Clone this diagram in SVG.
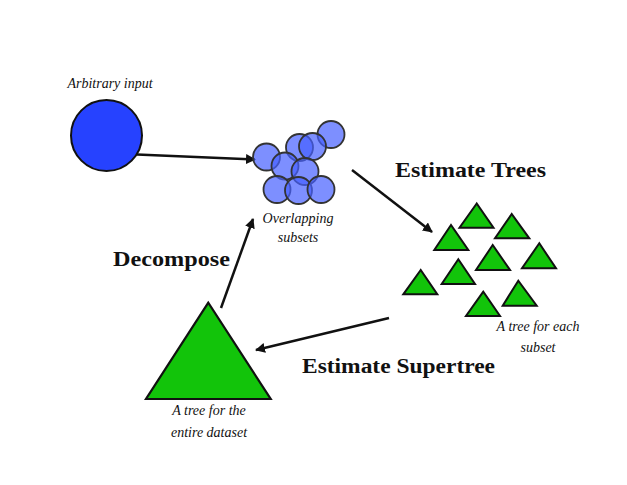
<svg xmlns="http://www.w3.org/2000/svg" width="627" height="485" viewBox="0 0 627 485">
<style>
.lbl{font-family:"Liberation Serif","Times New Roman",serif;font-style:italic;font-size:14px;fill:#111;text-anchor:middle}
.head{font-family:"Liberation Serif","Times New Roman",serif;font-weight:bold;font-size:20px;fill:#111}
.sub{fill:#4660ff;fill-opacity:0.7;stroke:#333;stroke-width:1.8}
.tri{fill:#12c40a;stroke:#111;stroke-width:2;stroke-linejoin:miter}
.conn{stroke:#111;stroke-width:2.5;fill:none;marker-end:url(#ah)}
</style>
<defs>
<marker id="ah" viewBox="0 0 10 10" refX="9" refY="5" markerWidth="4" markerHeight="4" orient="auto" markerUnits="strokeWidth">
<path d="M0,0 L10,5 L0,10 z" fill="#111"/>
</marker>
</defs>
<rect width="627" height="485" fill="#fff"/>
<g id="connectors">
<line class="conn" x1="137" y1="154.5" x2="255" y2="159.5"/>
<line class="conn" x1="352" y1="170" x2="432" y2="232"/>
<line class="conn" x1="389" y1="318" x2="256" y2="350"/>
<line class="conn" x1="221" y1="308" x2="253" y2="219"/>
</g>
<g id="input">
<circle cx="106.5" cy="135.5" r="35.5" fill="#2642ff" stroke="#111" stroke-width="2"/>
<text class="lbl" x="110" y="88">Arbitrary input</text>
</g>
<g id="subsets">
<circle class="sub" cx="331" cy="134.5" r="13.5"/>
<circle class="sub" cx="299.5" cy="147.5" r="13.5"/>
<circle class="sub" cx="312.5" cy="146.5" r="13.5"/>
<circle class="sub" cx="266.5" cy="157" r="13.5"/>
<circle class="sub" cx="285" cy="166" r="13.5"/>
<circle class="sub" cx="305" cy="171.5" r="13.5"/>
<circle class="sub" cx="277" cy="189.5" r="13.5"/>
<circle class="sub" cx="298.5" cy="190.5" r="13.5"/>
<circle class="sub" cx="321" cy="189.5" r="13.5"/>
<text class="lbl" x="298" y="223">Overlapping</text>
<text class="lbl" x="298" y="242">subsets</text>
</g>
<g id="trees">
<polygon class="tri" points="476.7,203.5 459.5,227.7 493.5,227.7"/>
<polygon class="tri" points="511.7,214 495,238.3 529.3,238.3"/>
<polygon class="tri" points="451,225 434.3,250 468.3,250"/>
<polygon class="tri" points="492.7,245 476,270 510,270"/>
<polygon class="tri" points="539.3,243.3 522,268.3 556,268.3"/>
<polygon class="tri" points="458.3,259.3 441.7,284 475,284"/>
<polygon class="tri" points="420.7,270 403.3,294.3 437.3,294.3"/>
<polygon class="tri" points="518.3,280.7 502.7,305.7 536.7,305.7"/>
<polygon class="tri" points="483.3,291.7 466,316 500,316"/>
<text class="lbl" x="538" y="331">A tree for each</text>
<text class="lbl" x="538" y="352">subset</text>
</g>
<g id="supertree">
<polygon class="tri" points="208.3,302.7 146,399 270.7,399" style="stroke-width:2.2"/>
<text class="lbl" x="209" y="415">A tree for the</text>
<text class="lbl" x="209" y="437">entire dataset</text>
</g>
<g id="labels">
<text class="head" x="395" y="177" textLength="151" lengthAdjust="spacingAndGlyphs">Estimate Trees</text>
<text class="head" x="113" y="266" textLength="117" lengthAdjust="spacingAndGlyphs">Decompose</text>
<text class="head" x="302" y="373" textLength="193" lengthAdjust="spacingAndGlyphs">Estimate Supertree</text>
</g>
</svg>
